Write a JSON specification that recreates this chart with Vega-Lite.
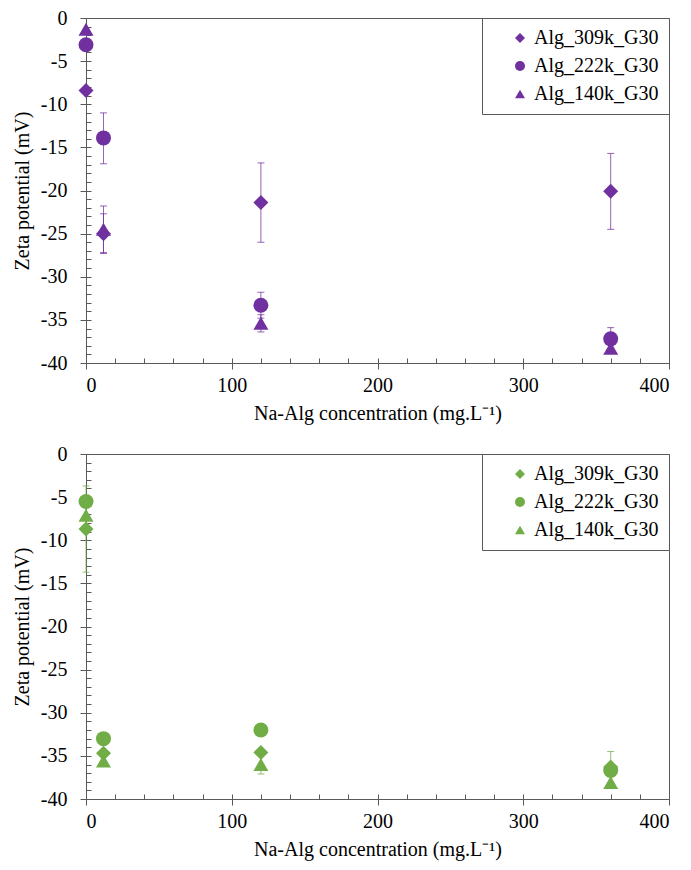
{
  "$schema": "https://vega.github.io/schema/vega-lite/v6.json",
  "padding": {"left": 11, "top": 7, "right": 5, "bottom": 5},
  "background": "white",
  "datasets": {
    "top": [
      {"conc": 0, "zeta": -8.4, "series": "Alg_309k_G30"},
      {"conc": 12, "zeta": -25.0, "lo": -27.3, "hi": -22.7, "series": "Alg_309k_G30"},
      {"conc": 120, "zeta": -21.4, "lo": -26.0, "hi": -16.8, "series": "Alg_309k_G30"},
      {"conc": 360, "zeta": -20.1, "lo": -24.5, "hi": -15.7, "series": "Alg_309k_G30"},
      {"conc": 0, "zeta": -3.1, "series": "Alg_222k_G30"},
      {"conc": 12, "zeta": -13.9, "lo": -16.9, "hi": -11.0, "series": "Alg_222k_G30"},
      {"conc": 120, "zeta": -33.3, "lo": -34.8, "hi": -31.8, "series": "Alg_222k_G30"},
      {"conc": 360, "zeta": -37.2, "lo": -38.5, "hi": -35.9, "series": "Alg_222k_G30"},
      {"conc": 0, "zeta": -1.3, "series": "Alg_140k_G30"},
      {"conc": 12, "zeta": -24.5, "lo": -27.2, "hi": -21.8, "series": "Alg_140k_G30"},
      {"conc": 120, "zeta": -35.4, "lo": -36.4, "hi": -34.4, "series": "Alg_140k_G30"},
      {"conc": 360, "zeta": -38.3, "series": "Alg_140k_G30"}
    ],
    "bottom": [
      {"conc": 0, "zeta": -8.7, "lo": -13.7, "hi": -3.7, "series": "Alg_309k_G30"},
      {"conc": 12, "zeta": -34.7, "series": "Alg_309k_G30"},
      {"conc": 120, "zeta": -34.6, "series": "Alg_309k_G30"},
      {"conc": 360, "zeta": -36.3, "lo": -38.1, "hi": -34.5, "series": "Alg_309k_G30"},
      {"conc": 0, "zeta": -5.5, "series": "Alg_222k_G30"},
      {"conc": 12, "zeta": -33.0, "series": "Alg_222k_G30"},
      {"conc": 120, "zeta": -32.0, "series": "Alg_222k_G30"},
      {"conc": 360, "zeta": -36.7, "series": "Alg_222k_G30"},
      {"conc": 0, "zeta": -7.1, "series": "Alg_140k_G30"},
      {"conc": 12, "zeta": -35.6, "series": "Alg_140k_G30"},
      {"conc": 120, "zeta": -36.0, "lo": -37.1, "hi": -34.9, "series": "Alg_140k_G30"},
      {"conc": 360, "zeta": -38.1, "series": "Alg_140k_G30"}
    ]
  },
  "vconcat": [
    {
      "width": 583,
      "height": 345,
      "data": {"name": "top"},
      "layer": [
        {
          "transform": [{"filter": "isValid(datum.lo)"}],
          "mark": {"type": "rule", "color": "#7030A0", "opacity": 0.75, "strokeWidth": 1},
          "encoding": {
            "x": {"field": "conc", "type": "quantitative", "scale": {"domain": [0, 400], "nice": false},
                  "axis": {"orient": "bottom", "values": [0,20,40,60,80,100,120,140,160,180,200,220,240,260,280,300,320,340,360,380,400], "tickSize": -5, "labels": false, "domain": false, "title": null}},
            "y": {"field": "lo", "type": "quantitative", "scale": {"domain": [-40, 0], "nice": false},
                  "axis": {"orient": "left", "values": [0,-1,-2,-3,-4,-5,-6,-7,-8,-9,-10,-11,-12,-13,-14,-15,-16,-17,-18,-19,-20,-21,-22,-23,-24,-25,-26,-27,-28,-29,-30,-31,-32,-33,-34,-35,-36,-37,-38,-39,-40], "tickSize": -5, "labels": false, "domain": false, "title": null}},
            "y2": {"field": "hi"}
          }
        },
        {
          "transform": [{"filter": "isValid(datum.lo)"}],
          "mark": {"type": "tick", "orient": "horizontal", "color": "#7030A0", "opacity": 0.75, "size": 7, "thickness": 1},
          "encoding": {
            "x": {"field": "conc", "type": "quantitative", "axis": null},
            "y": {"field": "lo", "type": "quantitative", "axis": null}
          }
        },
        {
          "transform": [{"filter": "isValid(datum.hi)"}],
          "mark": {"type": "tick", "orient": "horizontal", "color": "#7030A0", "opacity": 0.75, "size": 7, "thickness": 1},
          "encoding": {
            "x": {"field": "conc", "type": "quantitative", "axis": null},
            "y": {"field": "hi", "type": "quantitative", "axis": null}
          }
        },
        {
          "mark": {"type": "point", "filled": true, "opacity": 1, "size": 225, "color": "#7030A0"},
          "encoding": {
            "x": {"field": "conc", "type": "quantitative",
                  "axis": {"orient": "bottom", "values": [0, 100, 200, 300, 400], "tickSize": 6, "labelPadding": 6, "labelFont": "Liberation Serif", "titleFont": "Liberation Serif", "titleFontWeight": "normal", "title": "Na-Alg concentration (mg.L⁻¹)", "titlePadding": 8}},
            "y": {"field": "zeta", "type": "quantitative",
                  "axis": {"orient": "left", "values": [0, -5, -10, -15, -20, -25, -30, -35, -40], "tickSize": 6, "labelPadding": 13, "labelFont": "Liberation Serif", "titleFont": "Liberation Serif", "titleFontWeight": "normal", "labelExpr": "'' + datum.value", "title": "Zeta potential (mV)", "titlePadding": 8}},
            "shape": {"field": "series", "type": "nominal",
                      "scale": {"domain": ["Alg_309k_G30", "Alg_222k_G30", "Alg_140k_G30"], "range": ["diamond", "circle", "triangle-up"]},
                      "legend": {"symbolFillColor": "#7030A0", "symbolStrokeColor": "#7030A0", "labelFont": "Liberation Serif"}}
          }
        }
      ],
      "resolve": {"axis": {"x": "independent", "y": "independent"}}
    },
    {
      "width": 583,
      "height": 345,
      "data": {"name": "bottom"},
      "layer": [
        {
          "transform": [{"filter": "isValid(datum.lo)"}],
          "mark": {"type": "rule", "color": "#70AD47", "opacity": 0.75, "strokeWidth": 1},
          "encoding": {
            "x": {"field": "conc", "type": "quantitative", "scale": {"domain": [0, 400], "nice": false},
                  "axis": {"orient": "bottom", "values": [0,20,40,60,80,100,120,140,160,180,200,220,240,260,280,300,320,340,360,380,400], "tickSize": -5, "labels": false, "domain": false, "title": null}},
            "y": {"field": "lo", "type": "quantitative", "scale": {"domain": [-40, 0], "nice": false},
                  "axis": {"orient": "left", "values": [0,-1,-2,-3,-4,-5,-6,-7,-8,-9,-10,-11,-12,-13,-14,-15,-16,-17,-18,-19,-20,-21,-22,-23,-24,-25,-26,-27,-28,-29,-30,-31,-32,-33,-34,-35,-36,-37,-38,-39,-40], "tickSize": -5, "labels": false, "domain": false, "title": null}},
            "y2": {"field": "hi"}
          }
        },
        {
          "transform": [{"filter": "isValid(datum.lo)"}],
          "mark": {"type": "tick", "orient": "horizontal", "color": "#70AD47", "opacity": 0.75, "size": 7, "thickness": 1},
          "encoding": {
            "x": {"field": "conc", "type": "quantitative", "axis": null},
            "y": {"field": "lo", "type": "quantitative", "axis": null}
          }
        },
        {
          "transform": [{"filter": "isValid(datum.hi)"}],
          "mark": {"type": "tick", "orient": "horizontal", "color": "#70AD47", "opacity": 0.75, "size": 7, "thickness": 1},
          "encoding": {
            "x": {"field": "conc", "type": "quantitative", "axis": null},
            "y": {"field": "hi", "type": "quantitative", "axis": null}
          }
        },
        {
          "mark": {"type": "point", "filled": true, "opacity": 1, "size": 225, "color": "#70AD47"},
          "encoding": {
            "x": {"field": "conc", "type": "quantitative",
                  "axis": {"orient": "bottom", "values": [0, 100, 200, 300, 400], "tickSize": 6, "labelPadding": 6, "labelFont": "Liberation Serif", "titleFont": "Liberation Serif", "titleFontWeight": "normal", "title": "Na-Alg concentration (mg.L⁻¹)", "titlePadding": 8}},
            "y": {"field": "zeta", "type": "quantitative",
                  "axis": {"orient": "left", "values": [0, -5, -10, -15, -20, -25, -30, -35, -40], "tickSize": 6, "labelPadding": 13, "labelFont": "Liberation Serif", "titleFont": "Liberation Serif", "titleFontWeight": "normal", "labelExpr": "'' + datum.value", "title": "Zeta potential (mV)", "titlePadding": 8}},
            "shape": {"field": "series", "type": "nominal",
                      "scale": {"domain": ["Alg_309k_G30", "Alg_222k_G30", "Alg_140k_G30"], "range": ["diamond", "circle", "triangle-up"]},
                      "legend": {"symbolFillColor": "#70AD47", "symbolStrokeColor": "#70AD47", "labelFont": "Liberation Serif"}}
          }
        }
      ],
      "resolve": {"axis": {"x": "independent", "y": "independent"}}
    }
  ],
  "spacing": 19,
  "resolve": {"scale": {"shape": "independent"}, "legend": {"shape": "independent"}},
  "config": {
    "font": "Liberation Serif",
    "view": {"stroke": "#595959", "strokeWidth": 1},
    "axis": {
      "grid": false,
      "domainColor": "#595959",
      "tickColor": "#595959",
      "labelColor": "#000000",
      "titleColor": "#000000",
      "labelFont": "Liberation Serif",
      "titleFont": "Liberation Serif",
      "labelFontSize": 20,
      "titleFontSize": 20,
      "titleFontWeight": "normal"
    },
    "legend": {
      "orient": "top-right",
      "offset": 0,
      "padding": 10,
      "strokeColor": "#595959",
      "fillColor": "white",
      "title": null,
      "labelFont": "Liberation Serif",
      "labelFontSize": 20,
      "labelColor": "#000000",
      "symbolSize": 100,
      "symbolOffset": 18,
      "labelOffset": 4,
      "rowPadding": 8
    }
  }
}
